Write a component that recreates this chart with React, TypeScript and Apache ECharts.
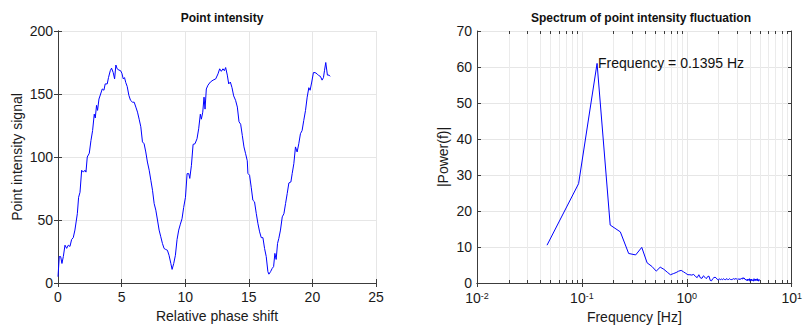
import React, { useEffect, useRef } from "react";
import * as echarts from "echarts";

// Point intensity vs relative phase shift
const phaseShift = [
  0, 0.1, 0.21, 0.31, 0.42, 0.55, 0.68, 0.81, 0.94, 1.07, 1.2, 1.33, 1.52, 1.62, 1.73, 1.86, 1.99, 2.12, 2.2, 2.3,
  2.46, 2.59, 2.72, 2.85, 2.93, 3.03, 3.11, 3.22, 3.35, 3.48, 3.61, 3.71, 3.87, 3.97, 4.11, 4.21, 4.34, 4.45, 4.55, 4.65,
  4.79, 4.92, 5.02, 5.13, 5.23, 5.33, 5.44, 5.57, 5.7, 5.86, 5.99, 6.12, 6.25, 6.38, 6.51, 6.64, 6.77, 6.9, 7.03, 7.17,
  7.3, 7.43, 7.56, 7.69, 7.82, 7.95, 8.08, 8.21, 8.34, 8.47, 8.6, 8.73, 8.87, 8.97, 9.1, 9.23, 9.36, 9.49, 9.62, 9.75,
  9.88, 10.02, 10.15, 10.28, 10.36, 10.49, 10.62, 10.77, 10.93, 11.06, 11.19, 11.27, 11.38, 11.48, 11.56, 11.66, 11.79,
  11.98, 12.19, 12.4, 12.58, 12.71, 12.84, 12.97, 13.08, 13.18, 13.31, 13.42, 13.55, 13.68, 13.81, 13.96, 14.1, 14.23,
  14.36, 14.49, 14.62, 14.75, 14.88, 14.93, 15.06, 15.19, 15.32, 15.45, 15.59, 15.72, 15.85, 15.98, 16.11, 16.24, 16.37,
  16.5, 16.58, 16.71, 16.84, 16.95, 17.05, 17.15, 17.26, 17.36, 17.49, 17.63, 17.76, 17.89, 18.02, 18.15, 18.31, 18.41,
  18.54, 18.67, 18.8, 18.93, 19.06, 19.19, 19.32, 19.46, 19.59, 19.72, 19.82, 19.95, 20.08, 20.21, 20.37, 20.5, 20.63,
  20.76, 20.87, 20.95, 21.05, 21.18, 21.31, 21.39,
];
const intensity = [
  5, 21, 21, 15.5, 21, 30, 27.5, 30, 29, 34.5, 36, 42, 55, 68, 72, 89.5, 88, 89.5, 88, 100,
  103, 113, 121, 134, 131, 141, 137, 146, 150, 154, 153, 158, 158, 163, 168.5, 170.5, 167, 162, 173, 170,
  169, 168.5, 166.5, 162, 163, 159, 156, 149, 145, 143.5, 143.5, 139.6, 135.6, 130, 124, 112, 110.5, 104, 96, 89.5,
  81.5, 73.6, 63, 57.8, 50, 42, 36.7, 31.4, 27.4, 26.6, 26, 22, 15.6, 10.8, 15.6, 22, 34.5, 42, 46.7, 51,
  60, 68, 86.8, 86.8, 83, 93.4, 110, 110.5, 114.5, 122.4, 134, 130, 135.6, 147.5, 138, 154, 157,
  159.5, 161, 162, 166, 170, 168, 170, 168.5, 171, 165, 158, 159.5, 155, 148.5, 145, 139.6, 128,
  126, 117, 108, 102.6, 97, 87, 85.5, 76, 65.7, 64.4, 55, 47, 40.6, 36, 36, 27.4, 21,
  9, 7, 9, 11.6, 13, 23.5, 18.7, 31.4, 35.4, 42, 52.5, 55, 63, 71, 79.4, 80.2, 86.8,
  94.7, 108, 104, 110.5, 118.5, 121, 129, 137, 147.5, 155, 153, 159.5, 167, 167, 166, 164.6, 164,
  161, 163, 168.5, 175, 165, 165, 164,
];

// Power spectrum, one value per FFT bin (bin k sits at k * frequencyStep Hz)
const frequencyStep = 0.0465;
const power = [
  10.5, 27.6, 61.0, 16.1, 14.2, 8.2, 7.8, 9.9, 5.6, 4.6,
  3.3, 4.4, 3.8, 3.0, 2.3, 2.6, 2.9, 3.3, 3.5, 3.1,
  2.7, 2.3, 2.3, 2.2, 2.4, 1.8, 1.5, 2.3, 1.4, 1.3,
  2.0, 1.6, 1.2, 1.8, 1.9, 0.7, 0.6, 1.2, 1.5, 1.6,
  1.4, 1.0, 0.8, 1.2, 0.9, 1.1, 0.9, 1.2, 1.0, 0.9,
  1.1, 1.2, 0.9, 1.0, 1.2, 1.0, 0.9, 1.1, 1.0, 1.2,
  1.1, 1.0, 1.3, 1.1, 1.0, 1.2, 1.1, 0.9, 1.2, 1.0,
  1.3, 1.2, 1.1, 1.5, 1.2, 1.4, 1.0, 1.1, 0.9, 0.7,
  1.1, 0.6, 1.0, 0.8, 1.2, 0.5, 1.0, 0.7, 1.1, 0.6,
  0.9, 1.0, 0.5, 1.2, 0.7, 0.9, 1.1, 0.6, 1.0, 0.8,
  1.2, 0.6, 0.9, 0.5, 1.0, 0.7, 0.6,
];

const leftTicksY = [0, 200, 50];
const leftTicksX = [0, 25, 5];
const rightTicksY = [0, 70, 10];
const freqRange = [0.01, 10];

const FONT = "'Liberation Sans', Arial, Helvetica, sans-serif";
const AXIS_COLOR = "#3c3c3c";
const GRID_COLOR = "#e6e6e6";
const LINE_COLOR = "#0000ff";
const TEXT_COLOR = "#1a1a1a";

export default function App() {
  const ref = useRef<HTMLDivElement>(null);

  useEffect(() => {
    if (!ref.current) return;
    const chart = echarts.init(ref.current, null, { renderer: "svg" });

    const signal = phaseShift.map((x, i) => [x, intensity[i]]);
    const spectrum = power.map((p, i) => [(i + 1) * frequencyStep, p]);
    let peak = 0;
    power.forEach((p, i) => {
      if (p > power[peak]) peak = i;
    });
    const peakFreq = (peak + 1) * frequencyStep;

    // minor decade positions 2..9 × 10^n for the log axis
    const minorFreqs: number[] = [];
    for (let d = -2; d < 1; d++) {
      for (let m = 2; m <= 9; m++) minorFreqs.push(m * Math.pow(10, d));
    }

    const tickInside = { show: true, inside: true, length: 4, lineStyle: { color: AXIS_COLOR } };
    const axisLine = { show: true, lineStyle: { color: AXIS_COLOR, width: 1 } };
    const label = { color: TEXT_COLOR, fontSize: 14, fontFamily: FONT, lineHeight: 14 };
    const nameStyle = { color: TEXT_COLOR, fontSize: 14, fontFamily: FONT };
    const split = { show: true, lineStyle: { color: GRID_COLOR, width: 1 } };

    const box = (gridIndex: number, type: string, min: number, max: number, interval?: number) => ({
      gridIndex,
      type,
      min,
      max,
      interval,
      axisLine,
      axisTick: tickInside,
      axisLabel: { show: false },
      splitLine: { show: false },
    });

    const option: any = {
      animation: false,
      backgroundColor: "#ffffff",
      textStyle: { fontFamily: FONT },
      title: [
        {
          text: "Point intensity",
          left: 217,
          top: 7,
          textAlign: "center",
          textStyle: { fontSize: 12, fontWeight: "bold", color: "#111", fontFamily: FONT },
        },
        {
          text: "Spectrum of point intensity fluctuation",
          left: 636,
          top: 7,
          textAlign: "center",
          textStyle: { fontSize: 12, fontWeight: "bold", color: "#111", fontFamily: FONT },
        },
      ],
      grid: [
        { left: 58, top: 31, width: 318, height: 252 },
        { left: 477, top: 31, width: 318, height: 252 },
      ],
      xAxis: [
        {
          gridIndex: 0,
          type: "value",
          min: leftTicksX[0],
          max: leftTicksX[1],
          interval: leftTicksX[2],
          name: "Relative phase shift",
          nameLocation: "middle",
          nameGap: 22,
          nameTextStyle: nameStyle,
          axisLine,
          axisTick: tickInside,
          axisLabel: { ...label, margin: 7 },
          splitLine: split,
        },
        {
          gridIndex: 1,
          type: "log",
          logBase: 10,
          min: freqRange[0],
          max: freqRange[1],
          name: "Frequency [Hz]",
          nameLocation: "middle",
          nameGap: 22,
          nameTextStyle: nameStyle,
          axisLine,
          axisTick: tickInside,
          axisLabel: {
            ...label,
            margin: 8,
            formatter: (v: number) => `{b|10}{s|${Math.round(Math.log10(v))}}`,
            rich: {
              b: { fontSize: 14, fontFamily: FONT, color: TEXT_COLOR, lineHeight: 14 },
              s: { fontSize: 9, fontFamily: FONT, color: TEXT_COLOR, verticalAlign: "top", lineHeight: 14 },
            },
          },
          splitLine: split,
        },
        { ...box(0, "value", leftTicksX[0], leftTicksX[1], leftTicksX[2]), position: "top" },
        { ...box(1, "log", freqRange[0], freqRange[1]), logBase: 10, position: "top" },
      ],
      yAxis: [
        {
          gridIndex: 0,
          type: "value",
          min: leftTicksY[0],
          max: leftTicksY[1],
          interval: leftTicksY[2],
          name: "Point intensity signal",
          nameLocation: "middle",
          nameGap: 34,
          nameTextStyle: nameStyle,
          axisLine,
          axisTick: tickInside,
          axisLabel: { ...label, margin: 5 },
          splitLine: split,
        },
        {
          gridIndex: 1,
          type: "value",
          min: rightTicksY[0],
          max: rightTicksY[1],
          interval: rightTicksY[2],
          name: "|Power(f)|",
          nameLocation: "middle",
          nameGap: 27,
          nameTextStyle: nameStyle,
          axisLine,
          axisTick: tickInside,
          axisLabel: { ...label, margin: 5 },
          splitLine: split,
        },
        { ...box(0, "value", leftTicksY[0], leftTicksY[1], leftTicksY[2]), position: "right" },
        { ...box(1, "value", rightTicksY[0], rightTicksY[1], rightTicksY[2]), position: "right" },
      ],
      series: [
        {
          // minor grid lines and minor ticks (2..9 per decade) of the log frequency axis
          type: "custom",
          xAxisIndex: 1,
          yAxisIndex: 1,
          data: minorFreqs.map((f) => [f, rightTicksY[0]]),
          encode: { x: 0, y: 1 },
          z: 1,
          silent: true,
          clip: false,
          renderItem: (_params: any, api: any) => {
            const f = api.value(0);
            const [x, bottom] = api.coord([f, rightTicksY[0]]);
            const top = api.coord([f, rightTicksY[1]])[1];
            const px = Math.round(x) + 0.5;
            return {
              type: "group",
              children: [
                {
                  type: "line",
                  shape: { x1: px, y1: top, x2: px, y2: bottom },
                  style: { stroke: "#ebebeb", lineWidth: 1 },
                },
                {
                  type: "line",
                  shape: { x1: px, y1: bottom, x2: px, y2: bottom - 3 },
                  style: { stroke: AXIS_COLOR, lineWidth: 1 },
                },
                {
                  type: "line",
                  shape: { x1: px, y1: top, x2: px, y2: top + 3 },
                  style: { stroke: AXIS_COLOR, lineWidth: 1 },
                },
              ],
            };
          },
        },
        {
          type: "line",
          xAxisIndex: 0,
          yAxisIndex: 0,
          data: signal,
          showSymbol: false,
          lineStyle: { color: LINE_COLOR, width: 1 },
          silent: true,
          z: 3,
        },
        {
          type: "line",
          xAxisIndex: 1,
          yAxisIndex: 1,
          data: spectrum,
          showSymbol: false,
          lineStyle: { color: LINE_COLOR, width: 1 },
          silent: true,
          z: 3,
          markPoint: {
            silent: true,
            symbol: "circle",
            symbolSize: 0,
            data: [
              {
                coord: [peakFreq, power[peak]],
                label: {
                  show: true,
                  position: "right",
                  distance: 1,
                  formatter: `Frequency = ${peakFreq.toFixed(4)} Hz`,
                  fontSize: 14,
                  fontFamily: FONT,
                  color: "#111",
                },
              },
            ],
          },
        },
      ],
    };

    chart.setOption(option);
    return () => chart.dispose();
  }, []);

  return (
    <div
      ref={ref}
      style={{ position: "fixed", left: 0, top: 0, width: 805, height: 329, background: "#fff" }}
    />
  );
}
